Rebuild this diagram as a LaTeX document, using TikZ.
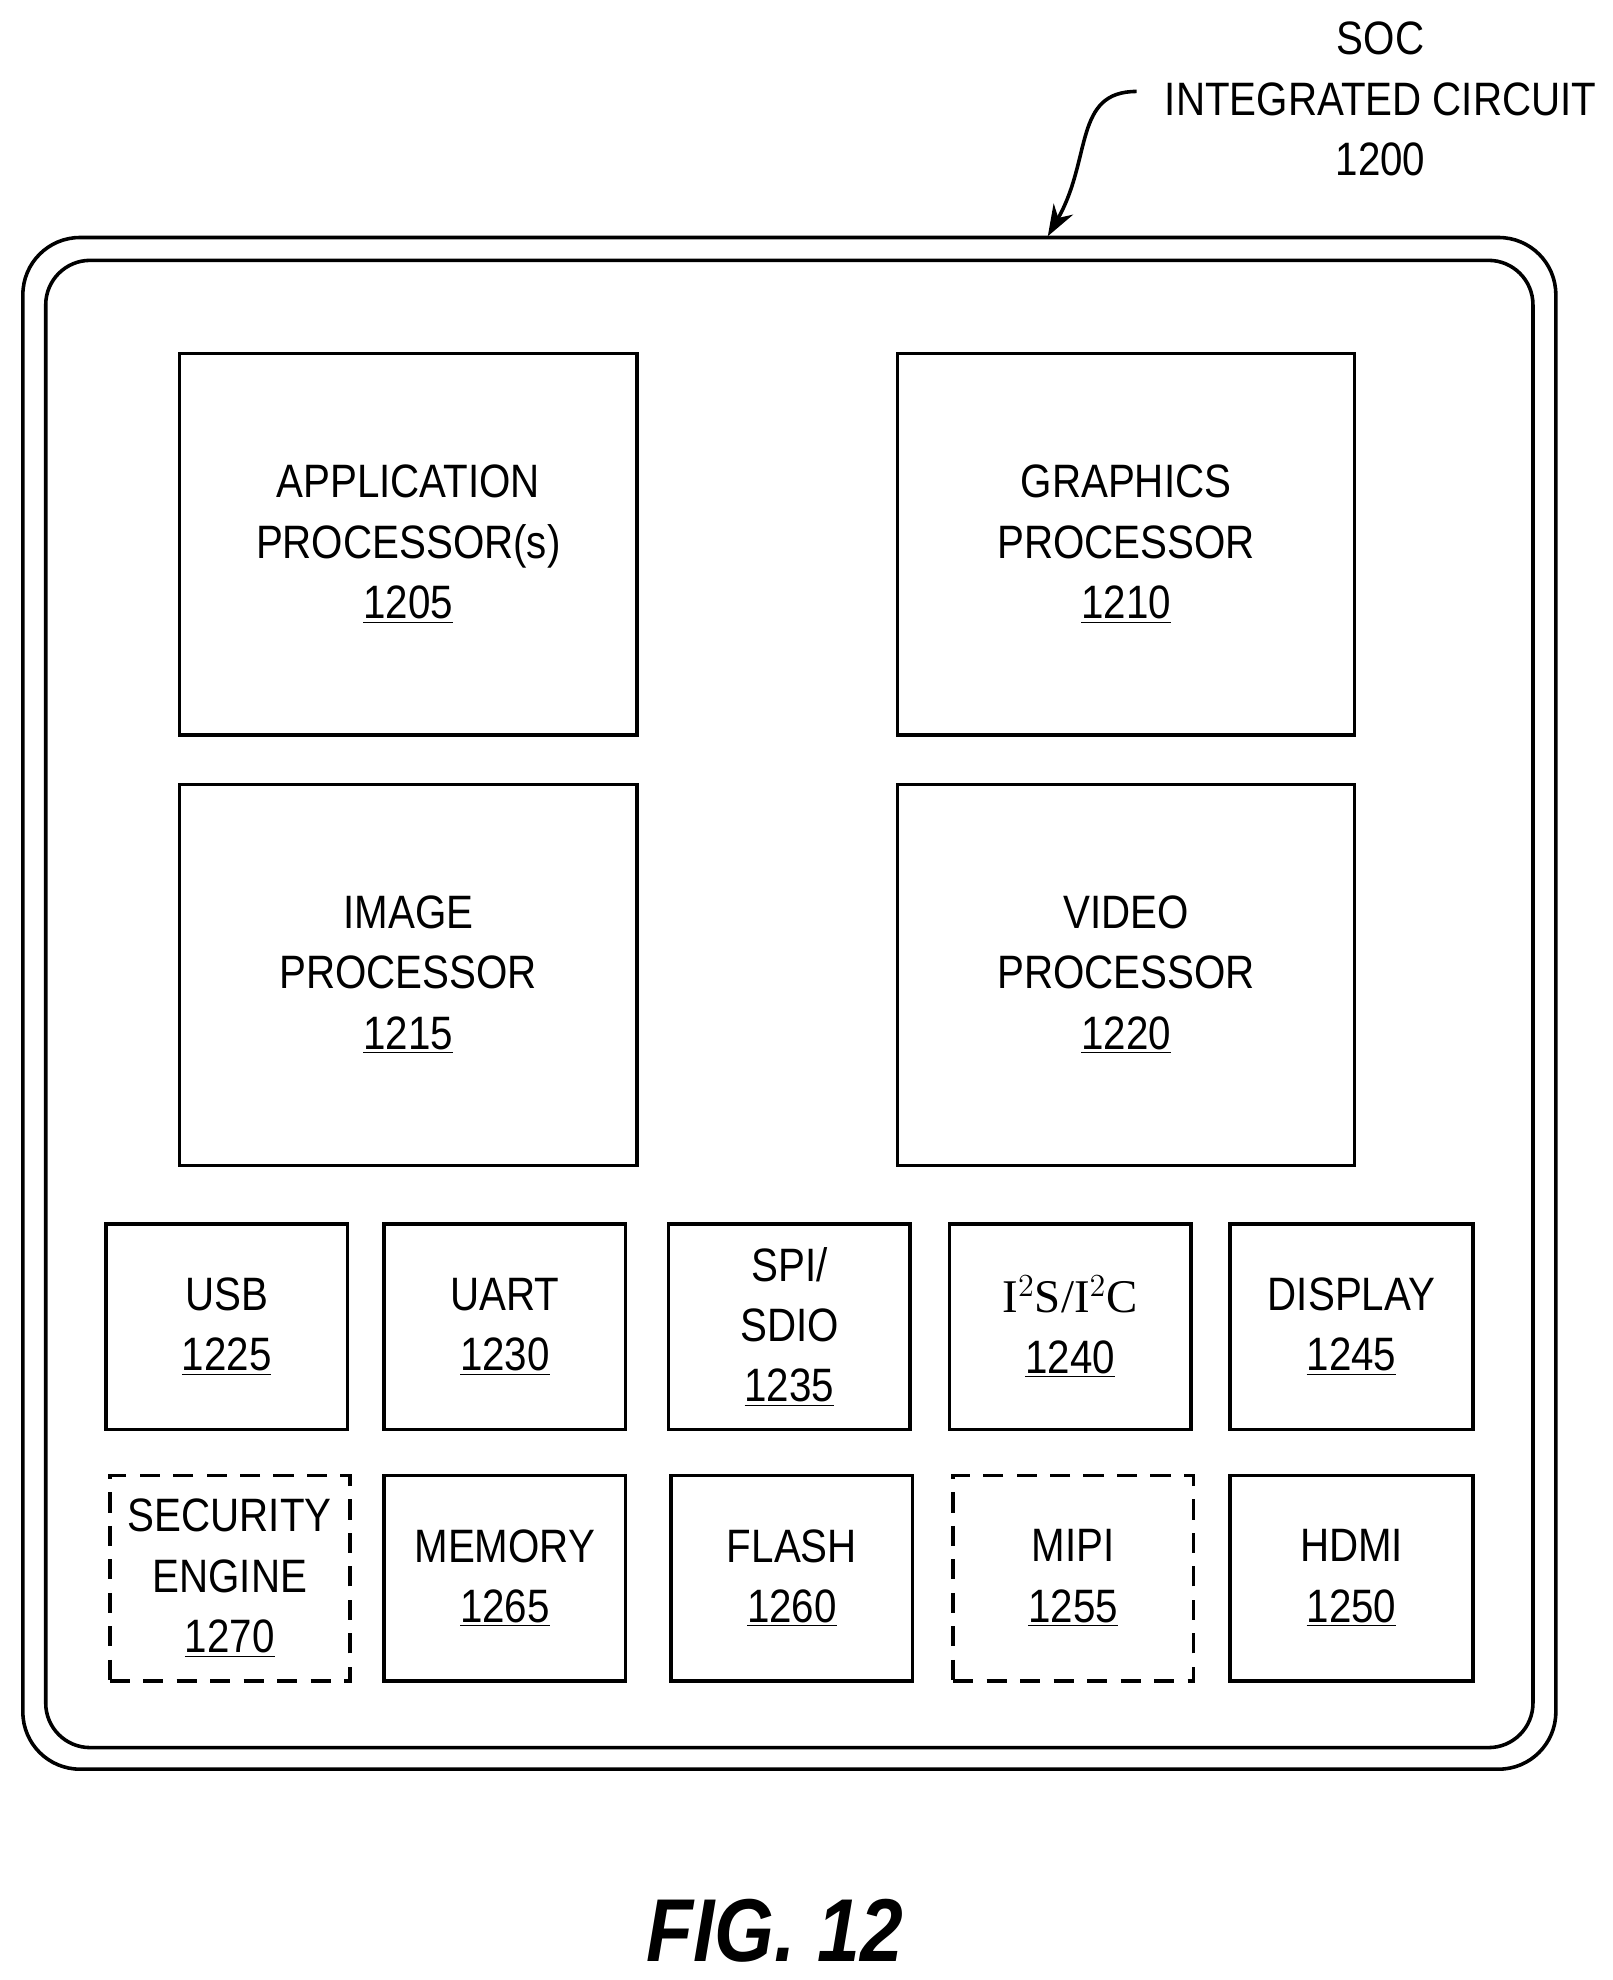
\documentclass[tikz,border=0pt]{standalone}
\usepackage{fontspec}
\setmainfont[FakeStretch=0.86]{Liberation Sans}
\newfontfamily\serifnum{Liberation Serif}
\usetikzlibrary{arrows.meta}
\tikzset{
  blk/.style={draw,line width=1.6pt,align=center,font=\fontsize{21}{27}\selectfont},
  dblk/.style={blk,dash pattern=on 9pt off 6pt},
}
\newcommand{\blkbox}[6]{\node[#1,minimum width=#4*0.02cm,minimum height=#5*0.02cm,anchor=north west] (#6) at (#2*0.02,-#3*0.02) {};}
\begin{document}
\begin{tikzpicture}
\useasboundingbox (0,0) rectangle (25.4,-31.18);
% chip outline
\draw[line width=1.6pt,rounded corners=0.9cm] (0.36,-3.74) rectangle (24.5,-27.86);
\draw[line width=1.6pt,rounded corners=0.7cm] (0.72,-4.1) rectangle (24.14,-27.52);
% title
\node[align=center,font=\fontsize{21}{27}\selectfont] (soc) at (21.74,-1.56) {SOC\\INTEGRATED CIRCUIT\\1200};
\coordinate (socin) at (17.9,-1.44);
\coordinate (chip) at (16.5,-3.72);
\draw[line width=1.6pt,-{Stealth[length=14pt,width=10pt]}] (socin) .. controls (16.9,-1.44) and (17.2,-2.5) .. (chip);
% big blocks
\blkbox{blk}{140}{277}{360}{300}{ap}
\node[blk,draw=none] at (ap) {APPLICATION\\PROCESSOR(s)\\\underline{1205}};
\blkbox{blk}{705}{277}{360}{300}{gp}
\node[blk,draw=none] at (gp) {GRAPHICS\\PROCESSOR\\\underline{1210}};
\blkbox{blk}{140}{616}{360}{300}{ip}
\node[blk,draw=none] at (ip) {IMAGE\\PROCESSOR\\\underline{1215}};
\blkbox{blk}{705}{616}{360}{300}{vp}
\node[blk,draw=none] at (vp) {VIDEO\\PROCESSOR\\\underline{1220}};
% interfaces
\blkbox{blk}{82}{962}{190}{162}{usb}
\node[blk,draw=none] at (usb) {USB\\\underline{1225}};
\blkbox{blk}{301}{962}{190}{162}{uart}
\node[blk,draw=none] at (uart) {UART\\\underline{1230}};
\blkbox{blk}{525}{962}{190}{162}{spi}
\node[blk,draw=none] at (spi) {SPI/\\SDIO\\\underline{1235}};
\blkbox{blk}{746}{962}{190}{162}{iis}
\node[blk,draw=none] at (iis) {{\serifnum I$^2$S/I$^2$C}\\\underline{1240}};
\blkbox{blk}{967}{962}{191}{162}{disp}
\node[blk,draw=none] at (disp) {DISPLAY\\\underline{1245}};
\blkbox{dblk}{85}{1160}{189}{162}{sec}
\node[blk,draw=none] at (sec) {SECURITY\\ENGINE\\\underline{1270}};
\blkbox{blk}{301}{1160}{190}{162}{mem}
\node[blk,draw=none] at (mem) {MEMORY\\\underline{1265}};
\blkbox{blk}{527}{1160}{190}{162}{flash}
\node[blk,draw=none] at (flash) {FLASH\\\underline{1260}};
\blkbox{dblk}{749}{1160}{189}{162}{mipi}
\node[blk,draw=none] at (mipi) {MIPI\\\underline{1255}};
\blkbox{blk}{967}{1160}{191}{162}{hdmi}
\node[blk,draw=none] at (hdmi) {HDMI\\\underline{1250}};
% caption
\node[font=\fontsize{40}{44}\selectfont\bfseries\itshape] (fig) at (12.2,-30.4) {FIG. 12};
\end{tikzpicture}
\end{document}
